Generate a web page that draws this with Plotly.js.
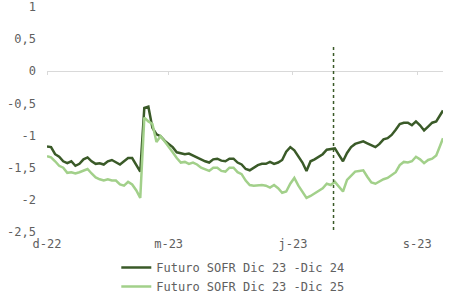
<!DOCTYPE html>
<html>
<head>
<meta charset="utf-8">
<script src="https://cdn.plot.ly/plotly-3.0.1.min.js"></script>
<style>
  html, body { margin: 0; padding: 0; background: #ffffff; }
  #chart { width: 465px; height: 300px; }
</style>
</head>
<body>
<div id="chart"></div>
<script>
const dates = [
  '2022-12-01','2022-12-04','2022-12-07','2022-12-10','2022-12-13','2022-12-16','2022-12-19','2022-12-22','2022-12-25','2022-12-28','2022-12-31',
  '2023-01-03','2023-01-06','2023-01-09','2023-01-12','2023-01-15','2023-01-18','2023-01-21','2023-01-24','2023-01-27','2023-01-30',
  '2023-02-02','2023-02-05','2023-02-08','2023-02-11','2023-02-14','2023-02-17','2023-02-20','2023-02-23','2023-02-26',
  '2023-03-01','2023-03-04','2023-03-07','2023-03-10','2023-03-13','2023-03-16','2023-03-19','2023-03-22','2023-03-25','2023-03-28','2023-03-31',
  '2023-04-03','2023-04-06','2023-04-09','2023-04-12','2023-04-15','2023-04-18','2023-04-21','2023-04-24','2023-04-27','2023-04-30',
  '2023-05-03','2023-05-06','2023-05-09','2023-05-12','2023-05-15','2023-05-18','2023-05-21','2023-05-24','2023-05-27','2023-05-30',
  '2023-06-02','2023-06-05','2023-06-08','2023-06-11','2023-06-14','2023-06-17','2023-06-20','2023-06-23','2023-06-26','2023-06-29',
  '2023-07-02','2023-07-05','2023-07-08','2023-07-11','2023-07-14','2023-07-17','2023-07-20','2023-07-23','2023-07-26','2023-07-29',
  '2023-08-01','2023-08-04','2023-08-07','2023-08-10','2023-08-13','2023-08-16','2023-08-19','2023-08-22','2023-08-25','2023-08-28','2023-08-31',
  '2023-09-03','2023-09-06','2023-09-09','2023-09-12','2023-09-15','2023-09-18','2023-09-20'
];

const sofrDic24 = [
  -1.17,-1.18,-1.29,-1.33,-1.40,-1.43,-1.40,-1.47,-1.44,-1.37,-1.34,
  -1.40,-1.44,-1.43,-1.45,-1.40,-1.38,-1.41,-1.45,-1.40,-1.35,
  -1.35,-1.45,-1.56,-0.57,-0.55,-0.88,-0.98,-1.01,-1.08,
  -1.13,-1.18,-1.26,-1.27,-1.29,-1.28,-1.31,-1.35,-1.38,-1.40,-1.42,
  -1.37,-1.36,-1.39,-1.40,-1.36,-1.36,-1.42,-1.45,-1.52,-1.54,
  -1.50,-1.46,-1.44,-1.44,-1.41,-1.44,-1.42,-1.38,-1.25,-1.18,
  -1.23,-1.32,-1.42,-1.55,-1.40,-1.37,-1.33,-1.29,-1.22,-1.21,
  -1.20,-1.30,-1.40,-1.27,-1.18,-1.13,-1.11,-1.09,-1.12,-1.15,
  -1.18,-1.13,-1.06,-1.04,-0.99,-0.91,-0.82,-0.80,-0.80,-0.84,-0.78,
  -0.84,-0.92,-0.86,-0.80,-0.78,-0.68,-0.61
];

const sofrDic25 = [
  -1.32,-1.34,-1.40,-1.47,-1.50,-1.58,-1.57,-1.59,-1.57,-1.54,-1.52,
  -1.59,-1.65,-1.68,-1.70,-1.68,-1.70,-1.70,-1.76,-1.78,-1.72,
  -1.76,-1.85,-1.97,-0.72,-0.78,-0.82,-1.10,-1.01,-1.09,
  -1.17,-1.26,-1.35,-1.42,-1.41,-1.44,-1.42,-1.45,-1.50,-1.53,-1.55,
  -1.50,-1.50,-1.55,-1.56,-1.50,-1.50,-1.57,-1.60,-1.70,-1.77,
  -1.78,-1.77,-1.77,-1.78,-1.81,-1.77,-1.82,-1.89,-1.87,-1.75,
  -1.66,-1.78,-1.87,-1.97,-1.94,-1.90,-1.86,-1.82,-1.75,-1.77,
  -1.72,-1.80,-1.87,-1.69,-1.62,-1.56,-1.55,-1.54,-1.64,-1.73,
  -1.75,-1.71,-1.68,-1.66,-1.62,-1.57,-1.46,-1.41,-1.42,-1.40,-1.33,
  -1.37,-1.43,-1.38,-1.36,-1.31,-1.15,-1.04
];

const seriesNames = ['Futuro SOFR Dic 23 -Dic 24', 'Futuro SOFR Dic 23 -Dic 25'];
const xTickVals = ['2022-12-01', '2023-03-01', '2023-06-01', '2023-09-01'];
const xTickText = ['d-22', 'm-23', 'j-23', 's-23'];
const yTickVals = [1, 0.5, 0, -0.5, -1, -1.5, -2, -2.5];
const yTickText = ['1', '0,5', '0', '-0,5', '-1', '-1,5', '-2', '-2,5'];
const markerDate = '2023-07-01';

const FONT = 'DejaVu Sans Mono, monospace';
const darkGreen = '#3a5a28';
const lightGreen = '#a2d08a';
const textGray = '#606060';

const yRange = [-2.547, 1.047];

const traces = [
  { x: dates, y: sofrDic24, type: 'scatter', mode: 'lines', name: seriesNames[0],
    line: { color: darkGreen, width: 2.5 } },
  { x: dates, y: sofrDic25, type: 'scatter', mode: 'lines', name: seriesNames[1],
    line: { color: lightGreen, width: 2.5 } },
  { x: [dates[0], dates[dates.length - 1]], y: [0, 0], xaxis: 'x2', yaxis: 'y',
    mode: 'lines', line: { width: 0 }, showlegend: false, hoverinfo: 'skip' }
];

const layout = {
  width: 465, height: 300,
  margin: { l: 47, r: 22, t: 4, b: 65, autoexpand: false },
  paper_bgcolor: '#ffffff', plot_bgcolor: '#ffffff',
  font: { family: FONT, size: 12, color: textGray },
  showlegend: true,
  legend: {
    x: 0.175, xanchor: 'left', y: -0.078, yanchor: 'top',
    font: { family: FONT, size: 12, color: textGray },
    bgcolor: 'rgba(0,0,0,0)', tracegroupgap: 0
  },
  xaxis: {
    type: 'date', range: ['2022-12-01', '2023-09-20'],
    tickvals: xTickVals, ticktext: xTickText,
    showgrid: false, zeroline: false, showline: false, ticks: '',
    ticklabelstandoff: 0, automargin: false, ticklabeloverflow: 'allow',
    tickfont: { family: FONT, size: 12, color: textGray }
  },
  xaxis2: {
    type: 'date', range: ['2022-12-01', '2023-09-20'],
    overlaying: 'x', anchor: 'free',
    position: (0 - yRange[0]) / (yRange[1] - yRange[0]), side: 'bottom',
    tickvals: xTickVals, showticklabels: false,
    ticks: 'outside', ticklen: 3, tickcolor: '#d9d9d9', tickwidth: 1,
    showgrid: false, zeroline: false, showline: false
  },
  yaxis: {
    range: yRange, tickvals: yTickVals, ticktext: yTickText,
    showgrid: false, zeroline: true, zerolinecolor: '#d9d9d9', zerolinewidth: 1,
    showline: false, ticks: '', ticklabelstandoff: 10, automargin: false,
    ticklabeloverflow: 'allow',
    tickfont: { family: FONT, size: 12, color: textGray }
  },
  shapes: [{
    type: 'line', xref: 'x', yref: 'y',
    x0: markerDate, x1: markerDate, y0: -2.47, y1: 0.42,
    line: { color: darkGreen, width: 1.5, dash: 'dot' }
  }]
};

Plotly.newPlot('chart', traces, layout, { displayModeBar: false, staticPlot: true });
</script>
</body>
</html>
